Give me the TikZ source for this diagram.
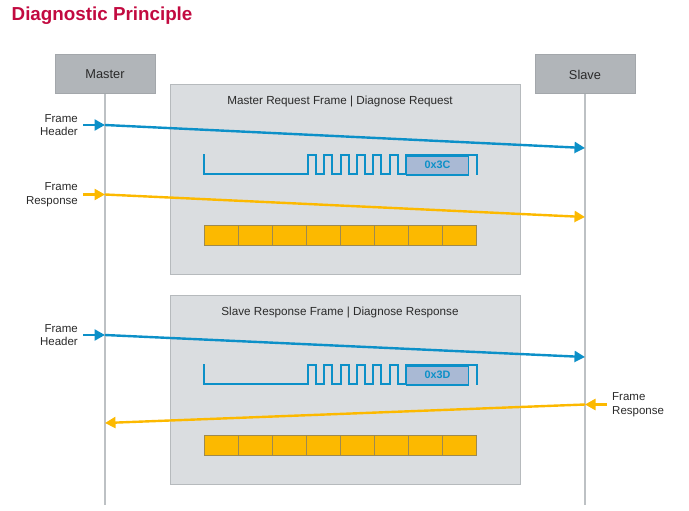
\documentclass[tikz,border=0pt]{standalone}
\usepackage{fontspec}
\setmainfont{Liberation Sans}
\usetikzlibrary{arrows.meta}
\definecolor{titlered}{HTML}{C20A40}
\definecolor{rolefill}{HTML}{B1B5B9}
\definecolor{roledraw}{HTML}{A3A7AB}
\definecolor{framefill}{HTML}{DADDE0}
\definecolor{framedraw}{HTML}{B6BABD}
\definecolor{lifegray}{HTML}{BDC1C4}
\definecolor{sigblue}{HTML}{0C90C8}
\definecolor{sigorange}{HTML}{FCB900}
\definecolor{cellborder}{HTML}{9E8A50}
\definecolor{idfill}{HTML}{A9B9D4}
\definecolor{txtgray}{HTML}{2A2A2A}
\tikzset{
  role/.style={draw=roledraw, fill=rolefill, line width=1pt, minimum width=100pt, minimum height=39pt, inner sep=0pt, text=txtgray, font=\fontsize{12.8}{14}\selectfont},
  framebox/.style={draw=framedraw, fill=framefill, line width=1pt},
  frametitle/.style={text=txtgray, font=\fontsize{11.7}{13}\selectfont, inner sep=0pt},
  lifeline/.style={draw=lifegray, line width=1.8pt},
  msg/.style={line width=2.4pt, -{Triangle[length=10.5pt,width=11pt]}},
  lbl/.style={text=txtgray, font=\fontsize{11.5}{13.5}\selectfont, inner sep=0pt, align=right},
  lblr/.style={text=txtgray, font=\fontsize{11.5}{13.5}\selectfont, inner sep=0pt, align=left},
  wave/.style={draw=sigblue, line width=2pt, line join=miter},
  idbox/.style={draw=sigblue, fill=idfill, line width=1.5pt, minimum width=62pt, minimum height=19pt, inner sep=0pt, text=sigblue, font=\bfseries\fontsize{10.8}{12}\selectfont},
  cell/.style={draw=cellborder, fill=sigorange, line width=1pt, minimum width=34pt, minimum height=20pt, inner sep=0pt},
}
\begin{document}
\begin{tikzpicture}[x=1pt,y=-1pt]
\useasboundingbox (0,0) rectangle (689,511);
\node[anchor=west, text=titlered, font=\bfseries\fontsize{18.8}{22}\selectfont, inner sep=0pt] (title) at (11.5,16) {Diagnostic Principle};

% roles
\node[role] (master) at (105,74.5) {Master};
\node[role] (slave) at (585,74.5) {Slave};
\coordinate (mend) at (105,505);
\coordinate (send) at (585,505);
\draw[lifeline] (master.south) -- (mend);
\draw[lifeline] (slave.south) -- (send);

% frame boxes
\draw[framebox] (170,85) rectangle (520,274);
\draw[framebox] (170,295) rectangle (520,484);
\node[frametitle] (t1) at (340,101.5) {Master Request Frame | Diagnose Request};
\node[frametitle] (t2) at (340,312.5) {Slave Response Frame | Diagnose Response};

% waveforms and byte bars
\foreach \dy/\id in {0/0x3C,210/0x3D}{
  \begin{scope}[shift={(0,\dy)}]
    \draw[wave] (204,154) -- (204,174) -- (308,174)
      \foreach \i in {0,...,5}{ -- ++(0,-19) -- ++(8.15,0) -- ++(0,19) -- ++(8.15,0) }
      -- ++(0,-19) -- (476.5,155) -- (476.5,175);
    \node[idbox, anchor=north west] (id\dy) at (405.8,155) {\id};
    \foreach \k in {0,...,7}{
      \node[cell, anchor=north west] (c\dy-\k) at (204+34*\k,225) {};
    }
  \end{scope}
}

% message coordinates
\coordinate (h1s) at (83,125);   \coordinate (h1m) at (105,125);  \coordinate (h1e) at (585,148);
\coordinate (r1s) at (83,194.5); \coordinate (r1m) at (105,194.5); \coordinate (r1e) at (585,217);
\coordinate (h2s) at (83,335);   \coordinate (h2m) at (105,335);  \coordinate (h2e) at (585,357);
\coordinate (r2s) at (607,404.5);\coordinate (r2m) at (585,404.5); \coordinate (r2e) at (105,423);

\draw[msg, sigblue] (h1s) -- (h1m);
\draw[msg, sigblue] (h1m) -- (h1e);
\draw[msg, sigorange] (r1s) -- (r1m);
\draw[msg, sigorange] (r1m) -- (r1e);
\draw[msg, sigblue] (h2s) -- (h2m);
\draw[msg, sigblue] (h2m) -- (h2e);
\draw[msg, sigorange] (r2s) -- (r2m);
\draw[msg, sigorange] (r2m) -- (r2e);

% labels
\node[lbl, anchor=east] (l1) at (78,125) {Frame\\Header};
\node[lbl, anchor=east] (l2) at (78,194.5) {Frame\\Response};
\node[lbl, anchor=east] (l3) at (78,335) {Frame\\Header};
\node[lblr, anchor=west] (l4) at (612,404.5) {Frame\\Response};
\end{tikzpicture}
\end{document}
